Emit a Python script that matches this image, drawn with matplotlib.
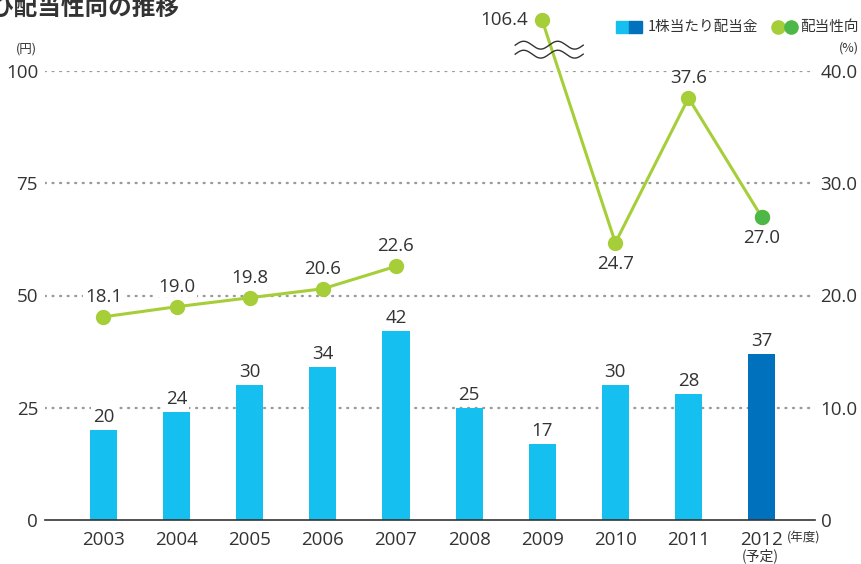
import numpy as np
import matplotlib
matplotlib.use("Agg")
import matplotlib.pyplot as plt

plt.rcParams['font.family'] = ['Open Sans', 'Noto Sans CJK JP', 'DejaVu Sans']

years = ['2003', '2004', '2005', '2006', '2007', '2008', '2009', '2010', '2011', '2012']
dividends = [20, 24, 30, 34, 42, 25, 17, 30, 28, 37]
payout = [18.1, 19.0, 19.8, 20.6, 22.6, None, 106.4, 24.7, 37.6, 27.0]
forecast_idx = 9
left_ticks = [0, 25, 50, 75, 100]
right_ticks = [0, 10.0, 20.0, 30.0, 40.0]

BLUE = '#15c0f1'
BLUE_DARK = '#0071bc'
GREEN = '#a6ce39'
GREEN_DARK = '#4db848'
TXT = '#333333'
GRID = '#9a9a9a'
CJK = ['Noto Sans CJK JP', 'DejaVu Sans']

W, H = 862, 564
fig = plt.figure(figsize=(W / 100, H / 100), dpi=100)
ax = fig.add_axes([45 / W, 44 / H, 770 / W, 449 / H])
ax2 = ax.twinx()

x = np.arange(len(years))
ax.set_xlim(-0.80, 9.73)
ax.set_ylim(0, 100)
ax2.set_ylim(0, 40)

# grid
for v in left_ticks[1:]:
    ax.axhline(v, color=GRID, lw=1.7, linestyle=(0, (0.4, 2.8)), dash_capstyle='round', zorder=0)

colors = [BLUE] * len(years)
colors[forecast_idx] = BLUE_DARK
ax.bar(x, dividends, width=0.37, color=colors, zorder=2)
for xi, v in zip(x, dividends):
    ax.annotate(str(v), (xi, v), xytext=(0, 3), textcoords='offset points',
                ha='center', va='bottom', fontsize=13.5, color=TXT, zorder=3,
                bbox=dict(boxstyle='square,pad=0.1', fc='white', ec='none'))

# payout ratio line (2009 value drawn above the axis with a break mark)
top_pct = 44.5
plot_vals = [np.nan if p is None else min(p, top_pct) for p in payout]
ax2.plot(x[:5], plot_vals[:5], color=GREEN, lw=2.2, marker='o', ms=10, zorder=4, clip_on=False)
ax2.plot(x[6:], plot_vals[6:], color=GREEN, lw=2.2, marker='o', ms=10, zorder=4, clip_on=False)
ax2.plot([x[forecast_idx]], [plot_vals[forecast_idx]], color=GREEN_DARK, marker='o', ms=10,
         lw=0, zorder=5)

label_pos = {0: 'above', 1: 'above', 2: 'above', 3: 'above', 4: 'above',
             6: 'left', 7: 'below', 8: 'above', 9: 'below'}
for i, p in enumerate(payout):
    if p is None:
        continue
    pos = label_pos[i]
    if pos == 'above':
        off, ha, va = (0, 8), 'center', 'bottom'
    elif pos == 'below':
        off, ha, va = (0, -9), 'center', 'top'
    else:
        off, ha, va = (-10, 0), 'right', 'center'
    ax2.annotate(f'{p:.1f}', (x[i], plot_vals[i]), xytext=off, textcoords='offset points',
                 ha=ha, va=va, fontsize=13.5, color=TXT, zorder=6, annotation_clip=False,
                 bbox=dict(boxstyle='square,pad=0.1', fc='white', ec='none'))

# wavy break mark on the 2009 line
wx = np.linspace(x[6] - 0.37, x[6] + 0.56, 200)
wave = 0.35 * np.sin((wx - wx[0]) / (wx[-1] - wx[0]) * 2 * np.pi * 2)
for base in (42.3, 41.5):
    ax2.plot(wx, base + wave, color=TXT, lw=1.0, zorder=7, clip_on=False)

# axes styling
for s in ['left', 'right', 'top']:
    ax.spines[s].set_visible(False)
    ax2.spines[s].set_visible(False)
ax2.spines['bottom'].set_visible(False)
ax.spines['bottom'].set_color(TXT)
ax.spines['bottom'].set_linewidth(1.2)
ax.spines['bottom'].set_zorder(3)

ax.set_xticks(x)
ax.set_xticklabels(years, fontsize=13.5, color=TXT)
ax.set_yticks(left_ticks)
ax.set_yticklabels([str(v) for v in left_ticks], fontsize=13.5, color=TXT)
ax2.set_yticks(right_ticks)
ax2.set_yticklabels(['0'] + [f'{v:.1f}' for v in right_ticks[1:]], fontsize=13.5, color=TXT)
ax.tick_params(axis='x', length=0, pad=8)
ax.tick_params(axis='y', length=0, pad=5)
ax2.tick_params(axis='y', length=0, pad=4)

# units and notes
fig.text(26 / W, 1 - 49 / H, '(円)', fontsize=9, color=TXT, ha='center', va='center', family=CJK)
fig.text(849 / W, 1 - 48 / H, '(%)', fontsize=9, color=TXT, ha='center', va='center', family=CJK)
fig.text(804 / W, 1 - 538 / H, '(年度)', fontsize=9, color=TXT, ha='center', va='center', family=CJK)
fig.text(760 / W, 1 - 556 / H, '(予定)', fontsize=10, color=TXT, ha='center', va='center', family=CJK)

# title (cut at the left edge)
fig.text(-10 / W, 1 - 8 / H, 'び配当性向の推移', fontsize=17, fontweight='bold', color=TXT,
         ha='left', va='center', family=CJK)

# legend
fig.patches.append(plt.Rectangle((616 / W, 1 - 33 / H), 13 / W, 12 / H, color=BLUE,
                                 transform=fig.transFigure, figure=fig))
fig.patches.append(plt.Rectangle((629 / W, 1 - 33 / H), 13 / W, 12 / H, color=BLUE_DARK,
                                 transform=fig.transFigure, figure=fig))
fig.text(648 / W, 1 - 27 / H, '1株当たり配当金', fontsize=10.5, color=TXT, ha='left', va='center',
         family=CJK)
fig.lines.append(plt.Line2D([778 / W], [1 - 27 / H], marker='o', ms=9.5, color=GREEN, lw=0,
                            transform=fig.transFigure))
fig.lines.append(plt.Line2D([791 / W], [1 - 27 / H], marker='o', ms=9.5, color=GREEN_DARK, lw=0,
                            transform=fig.transFigure))
fig.text(800 / W, 1 - 27 / H, '配当性向', fontsize=10.5, color=TXT, ha='left', va='center',
         family=CJK)

fig.savefig('out.png', dpi=100)
